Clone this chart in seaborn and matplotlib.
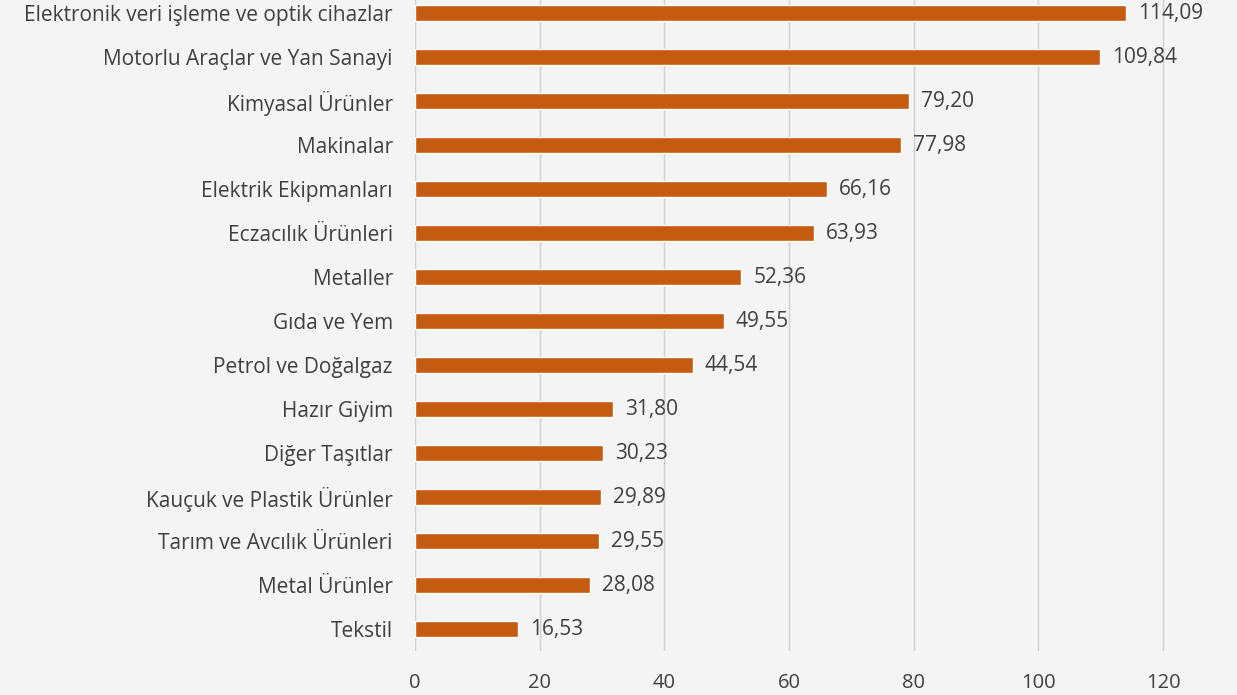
import matplotlib
matplotlib.use("Agg")
import matplotlib.pyplot as plt
import seaborn as sns
import pandas as pd

categories = [
    "Elektronik veri işleme ve optik cihazlar",
    "Motorlu Araçlar ve Yan Sanayi",
    "Kimyasal Ürünler",
    "Makinalar",
    "Elektrik Ekipmanları",
    "Eczacılık Ürünleri",
    "Metaller",
    "Gıda ve Yem",
    "Petrol ve Doğalgaz",
    "Hazır Giyim",
    "Diğer Taşıtlar",
    "Kauçuk ve Plastik Ürünler",
    "Tarım ve Avcılık Ürünleri",
    "Metal Ürünler",
    "Tekstil",
]
values = [114.09, 109.84, 79.20, 77.98, 66.16, 63.93, 52.36, 49.55, 44.54,
          31.80, 30.23, 29.89, 29.55, 28.08, 16.53]
xticks = [0, 20, 40, 60, 80, 100, 120]

df = pd.DataFrame({"cat": categories, "val": values})

sns.set_theme(style="white")
plt.rcParams["font.family"] = ["Open Sans", "DejaVu Sans"]

fig = plt.figure(figsize=(12.37, 6.95), dpi=100)
bg = "#f4f4f4"
fig.patch.set_facecolor(bg)
ax = fig.add_axes([415/1237, 44/695, (1238-415)/1237, (695-44+9)/695])
ax.set_facecolor(bg)

sns.barplot(data=df, x="val", y="cat", color="#C55A11", saturation=1,
            width=0.36, ax=ax, orient="h")

ax.set_xlim(0, 132)
ax.set_ylim(14.5, -0.5)
ax.set_xticks(xticks)
ax.set_xticklabels([str(t) for t in xticks])
ax.xaxis.grid(True, color="#d0d0d0", linewidth=1)
ax.set_axisbelow(True)
for s in ax.spines.values():
    s.set_visible(False)
ax.set_xlabel("")
ax.set_ylabel("")
ax.tick_params(axis="y", labelsize=15, colors="#404040", length=0, pad=16)
ax.tick_params(axis="x", labelsize=14.5, colors="#404040", length=0, pad=16)

for i, v in enumerate(values):
    ax.text(v + 1.9, i, f"{v:.2f}".replace(".", ","), va="center", ha="left",
            fontsize=15, color="#404040")

fig.savefig("out.png", dpi=100, facecolor=bg)
